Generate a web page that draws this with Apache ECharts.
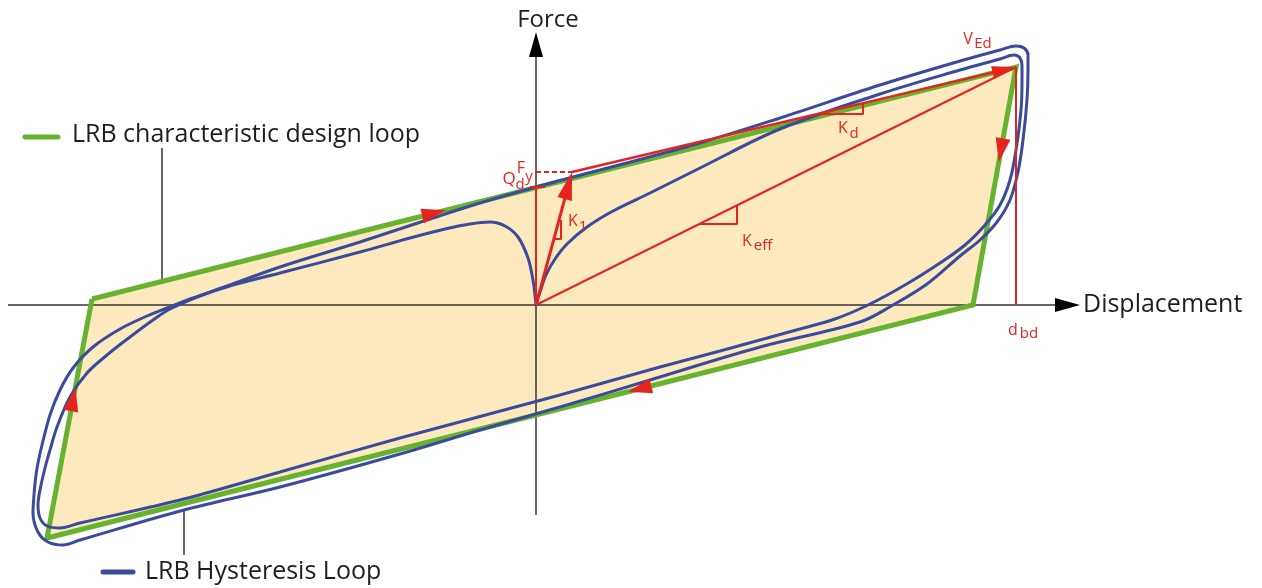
<!DOCTYPE html>
<html>
<head>
<meta charset="utf-8">
<style>
  html, body { margin: 0; padding: 0; background: #fff; }
  #chart { width: 1262px; height: 588px; }
</style>
<script src="https://cdn.jsdelivr.net/npm/echarts@6/dist/echarts.min.js"></script>
</head>
<body>
<div id="chart"></div>
<script>
// Units: displacement → right, force → up, origin where the axes cross.
// The axis ranges are picked so one unit is one screen pixel, which keeps arrow angles simple.
const X_RANGE = [-536, 726]
const Y_RANGE = [-283, 305]

const GREEN = '#67b22e'
const BLUE = '#3a4a9c'
const RED = '#e4251e'
const FILL = '#fde9be'
const INK = '#1e1e1e'
const AXIS = '#333333'

// LRB characteristic design loop (bilinear parallelogram)
const designLoop = [[-444, 6], [480, 238], [437, 0], [-489, -233], [-444, 6]]

// LRB hysteresis loop
// first loading from the origin, one cycle on the inner track, then unloading back to the origin
const virginCurve = [
  [0, 0], [4, 13], [10, 30], [19, 46], [31, 61], [51, 78], [77, 94], [114, 112],
  [164, 137], [244, 176], [344, 211], [424, 235], [464, 246], [478, 250],
  [484, 247], [486, 239], [486, 225],
]
const innerUnload = [
  [485, 195], [480, 155], [474, 125], [464, 100], [449, 80], [429, 60], [404, 42],
  [369, 20], [332, 0], [299, -14], [264, -24], [224, -35], [184, -46], [124, -62],
  [24, -90], [-136, -133], [-256, -167], [-352, -194], [-456, -218], [-476, -223],
  [-489, -221], [-496, -213], [-498, -200], [-496, -185], [-491, -163],
  [-486, -145], [-479, -122], [-466, -92], [-449, -68], [-429, -50],
  [-406, -32], [-383, -15], [-366, -4], [-336, 9], [-303, 20], [-256, 32],
]
const returnToOrigin = [
  [-176, 53], [-126, 67], [-91, 76], [-66, 81], [-46, 83], [-31, 79], [-18, 68],
  [-8, 47], [-3, 25], [-1, 10], [0, 0],
]
// steady cycle on the outer track (closed)
const outerCycle = [
  [64, 135], [164, 162], [244, 187], [344, 220], [424, 244], [464, 255], [480, 259],
  [488, 257], [492, 250], [492, 235], [491, 205], [487, 165], [482, 133],
  [474, 105], [461, 83], [444, 65], [424, 49], [391, 21], [357, 0], [324, -17],
  [224, -42], [114, -75], [24, -102], [-56, -125], [-136, -149], [-256, -182],
  [-352, -205], [-456, -235], [-473, -240], [-488, -237], [-498, -227],
  [-503, -208], [-502, -190], [-500, -170], [-497, -153], [-494, -140],
  [-486, -110], [-476, -85], [-463, -63], [-443, -42], [-416, -24], [-389, -11],
  [-369, -3], [-343, 7], [-309, 19], [-256, 38], [-176, 63], [-106, 86],
  [-56, 102], [0, 118], [64, 135],
]

// key points
const Q_D = [0, 118]
const F_Y = [36, 133]
const V_ED = [480, 238]

// direction arrows on the design loop: [edge index, fraction along edge]
const loopArrows = [[0, 0.37], [1, 0.35], [2, 0.36], [3, 0.58]]

// small slope triangles
const k1Tri = [[18, 66], [25, 66], [25, 85]]
const keffTri = [[163, 81], [201, 81], [201, 100]]
const kdTri = [[285, 191], [327, 191], [327, 201]]

// text pieces: [x, y, text, size, colour, align]
const labels = [
  [12, 285, 'Force', 24, INK, 'center'],
  [547, 0, 'Displacement', 25, INK, 'left'],
  [-464, 170, 'LRB characteristic design loop', 25, INK, 'left'],
  [-391, -267, 'LRB Hysteresis Loop', 25, INK, 'left'],
  [-27, 126, 'Q', 17, RED, 'center'],
  [-16, 120, 'd', 15, RED, 'center'],
  [-15, 137, 'F', 16, RED, 'center'],
  [-7, 128, 'y', 15, RED, 'center'],
  [37, 84, 'K', 16, RED, 'center'],
  [47, 78, '1', 15, RED, 'center'],
  [211, 64, 'K', 16, RED, 'center'],
  [227, 59, 'eff', 15, RED, 'center'],
  [307, 177, 'K', 16, RED, 'center'],
  [318, 171, 'd', 15, RED, 'center'],
  [432, 266, 'V', 16, RED, 'center'],
  [447, 261, 'Ed', 15, RED, 'center'],
  [477, -25, 'd', 16, RED, 'center'],
  [493, -29, 'bd', 15, RED, 'center'],
]

// helpers
const rotateFor = (from, to) => Math.atan2(to[1] - from[1], to[0] - from[0]) * 180 / Math.PI - 90
const backFromTip = (from, to, dist) => {
  const dx = to[0] - from[0], dy = to[1] - from[1]
  const len = Math.hypot(dx, dy)
  return [to[0] - dx / len * dist, to[1] - dy / len * dist]
}
const arrowHead = (from, to, w, h, color) => ({
  value: backFromTip(from, to, h / 2),
  symbol: 'triangle',
  symbolSize: [w, h],
  symbolRotate: rotateFor(from, to),
  itemStyle: { color, opacity: 1 },
})

const segment = (data, color, width, extra = {}) => ({
  type: 'line',
  data,
  symbol: 'none',
  silent: true,
  animation: false,
  lineStyle: { color, width, ...extra },
  z: extra.z || 3,
})

const hysteresisPath = [...virginCurve, ...innerUnload, ...returnToOrigin]

const loopArrowData = loopArrows.map(([edge, t]) => {
  const a = designLoop[edge], b = designLoop[edge + 1]
  const p = [a[0] + (b[0] - a[0]) * t, a[1] + (b[1] - a[1]) * t]
  return {
    value: p,
    symbol: 'triangle',
    symbolSize: [15, 24],
    symbolRotate: rotateFor(a, b),
    itemStyle: { color: RED, opacity: 1 },
  }
})

const xTip = [544, 0], yTip = [0, 273]
const axisArrows = [
  arrowHead([0, 0], xTip, 14, 25, '#000'),
  arrowHead([0, 0], yTip, 14, 25, '#000'),
]
const redArrows = [
  arrowHead([0, 0], F_Y, 15, 28, RED),
  arrowHead(F_Y, V_ED, 13, 24, RED),
]

const chart = echarts.init(document.getElementById('chart'))

chart.setOption({
  animation: false,
  backgroundColor: '#fff',
  grid: { left: 0, right: 0, top: 0, bottom: 0 },
  xAxis: { type: 'value', min: X_RANGE[0], max: X_RANGE[1], show: false },
  yAxis: { type: 'value', min: Y_RANGE[0], max: Y_RANGE[1], show: false },
  series: [
    // fill of the design loop
    {
      type: 'custom',
      silent: true,
      z: 1,
      data: [0],
      renderItem: (params, api) => ({
        type: 'polygon',
        shape: { points: designLoop.map(p => api.coord(p)) },
        style: { fill: FILL },
      }),
    },
    // axes
    segment([[-528, 0], [522, 0]], AXIS, 1.5, { z: 2 }),
    segment([[0, -210], [0, 250]], AXIS, 1.5, { z: 2 }),
    // pointer lines for the two captions
    segment([[-374, 157], [-374, 24]], AXIS, 1.5, { z: 2 }),
    segment([[-352, -205], [-352, -250]], AXIS, 1.5, { z: 2 }),
    // legend swatches
    segment([[-511, 168], [-478, 168]], GREEN, 5, { cap: 'round' }),
    segment([[-433, -267], [-403, -267]], BLUE, 5, { cap: 'round' }),
    // design loop
    segment(designLoop, GREEN, 5, { join: 'miter', z: 3 }),
    // hysteresis loop
    { ...segment(outerCycle, BLUE, 3, { z: 4 }), smooth: 0.35 },
    { ...segment(hysteresisPath, BLUE, 3, { z: 4 }), smooth: 0.35 },
    // red construction lines
    segment([[0, 0], Q_D], RED, 2, { z: 5 }),
    segment([[-6, 118], [9, 118]], RED, 2, { z: 5 }),
    segment([[0, 133], [40, 133]], RED, 2, { type: [5, 3], z: 5 }),
    segment([[0, 0], backFromTip([0, 0], F_Y, 20)], RED, 3, { z: 5 }),
    segment([F_Y, backFromTip(F_Y, V_ED, 18)], RED, 2.5, { z: 5 }),
    segment([[0, 0], V_ED], RED, 2, { z: 5 }),
    segment([V_ED, [480, 0]], RED, 2, { z: 5 }),
    segment(k1Tri, RED, 2, { z: 5 }),
    segment(keffTri, RED, 2, { z: 5 }),
    segment(kdTri, RED, 2, { z: 5 }),
    // arrow heads
    {
      type: 'scatter',
      silent: true,
      z: 6,
      itemStyle: { opacity: 1 },
      data: [...loopArrowData, ...redArrows, ...axisArrows],
    },
    // text
    {
      type: 'scatter',
      silent: true,
      z: 7,
      symbolSize: 0,
      itemStyle: { opacity: 1 },
      data: labels.map(([x, y, text, size, color, align]) => ({
        value: [x, y],
        label: {
          show: true,
          position: 'inside',
          formatter: text,
          fontSize: size,
          color,
          opacity: 1,
          align,
          verticalAlign: 'middle',
          fontFamily: '"Open Sans", sans-serif',
        },
      })),
    },
  ],
})
</script>
</body>
</html>
